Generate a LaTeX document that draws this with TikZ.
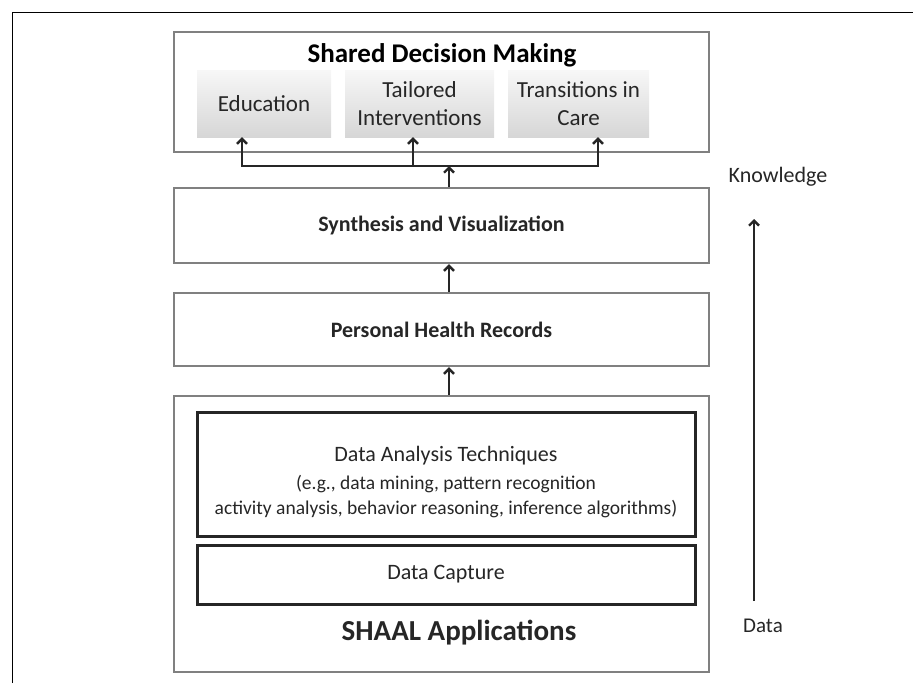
\documentclass[tikz,border=0pt]{standalone}
\usepackage{fontspec}
\setmainfont{Carlito}
\usetikzlibrary{arrows.meta, positioning}
\definecolor{boxgray}{HTML}{808080}
\newcommand{\headfont}{\fontsize{27}{32}\selectfont\bfseries}
\newcommand{\boxfont}{\fontsize{22}{28}\selectfont\bfseries}
\newcommand{\subfont}{\fontsize{23}{28}\selectfont}
\newcommand{\notefont}{\fontsize{19.5}{25}\selectfont}

\begin{document}
\begin{tikzpicture}[x=1pt, y=-1pt, every node/.style={text=black!85},
	graybox/.style={draw=boxgray, line width=2.4pt, minimum width=535pt, inner sep=0pt},
	blackbox/.style={draw=black!85, line width=3pt, minimum width=498pt, inner sep=0pt},
	subbox/.style={top color=gray!6, bottom color=gray!32, minimum height=67pt, inner sep=0pt, align=center, font=\subfont},
	arr/.style={-{Straight Barb[length=5pt, width=10pt]}, line width=2.4pt, black!85}]
	\useasboundingbox (0,0) rectangle (913,683);

	% Draw the page frame
	\draw[black, line width=0.8pt] (12,683) -- (12,12) -- (913,12);

	% Draw the shared decision box
	\node[graybox, minimum height=120pt] (sdm) at (441.5,92) {};
	\node[font=\headfont, text=black] (sdmtitle) at (442,55) {Shared Decision Making};
	\node[subbox, minimum width=134pt] (edu) at (264,103.5) {Education};
	\node[subbox, minimum width=149pt] (tail) at (419.5,103.5) {Tailored\\Interventions};
	\node[subbox, minimum width=141pt] (trans) at (578.5,103.5) {Transitions in\\Care};

	% Draw the middle boxes
	\node[graybox, minimum height=75pt, font=\boxfont] (synth) at (441.5,225.5) {Synthesis and Visualization};
	\node[graybox, minimum height=73pt, font=\boxfont] (phr) at (441.5,329.5) {Personal Health Records};

	% Draw the applications box
	\node[graybox, minimum height=276pt] (shaal) at (441.5,534) {};
	\node[blackbox, minimum height=124pt] (dat) at (446,474) {};
	\node[align=center, font=\notefont] (dattext) at (446,482)
		{{\fontsize{22}{27}\selectfont Data Analysis Techniques}\\[3pt]
		(e.g., data mining, pattern recognition\\
		activity analysis, behavior reasoning, inference algorithms)};
	\node[blackbox, minimum height=59pt, font=\fontsize{22}{27}\selectfont] (dc) at (446,574.5) {Data Capture};
	\node[font=\fontsize{29}{34}\selectfont\bfseries] (shaaltitle) at (459,633) {SHAAL Applications};

	% Draw the arrows between the boxes
	\coordinate (busL) at (242,166);
	\coordinate (busT) at (413,166);
	\coordinate (busR) at (598,166);
	\coordinate (busM) at (449,166);
	\draw[arr] (busT) -- (busL) -- (busL |- edu.south);
	\draw[arr] (busT) -- (busR) -- (busR |- trans.south);
	\draw[arr] (busT) -- (busT |- tail.south);
	\draw[arr] (synth.north -| busM) -- (busM);
	\draw[arr] (phr.north -| busM) -- (synth.south -| busM);
	\draw[arr] (shaal.north -| busM) -- (phr.south -| busM);

	% Draw the data to knowledge arrow
	\node[font=\fontsize{22}{27}\selectfont] (know) at (778,177) {Knowledge};
	\node[font=\fontsize{21}{27}\selectfont] (data) at (763,626) {Data};
	\coordinate (kArrow) at (754,219);
	\coordinate (dArrow) at (754,601);
	\draw[arr] (dArrow) -- (kArrow);

\end{tikzpicture}
\end{document}
